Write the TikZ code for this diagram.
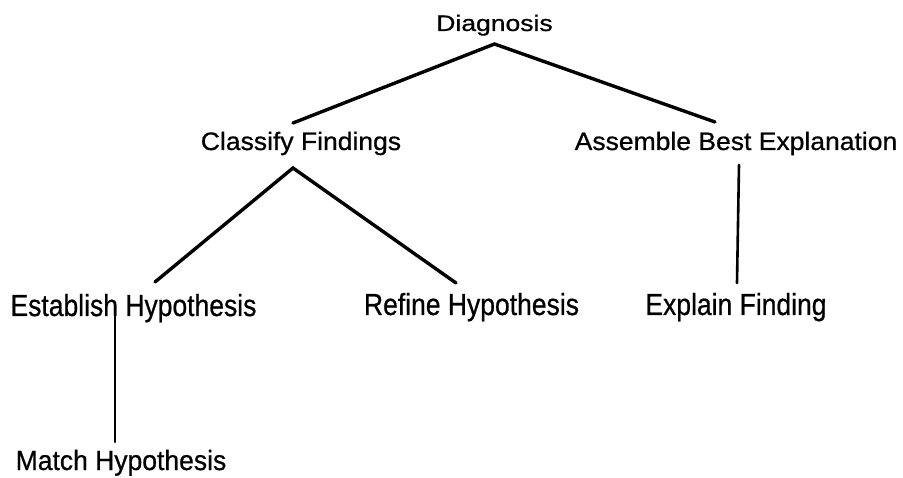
\documentclass[tikz,border=0pt]{standalone}
\usepackage{fontspec}
\setmainfont{Liberation Sans}[FakeBold=0.7]
\newcommand\vstretch[2]{\scalebox{1}[#1]{#2}}
\begin{document}
\begin{tikzpicture}[x=1pt,y=1pt,
  lbl/.style={anchor=base,inner sep=0pt,font=\fontsize{26.5}{30}\selectfont},
  conn/.style={line width=3.4pt,line cap=round},
  vconn/.style={line width=2.6pt,line cap=round}]
\useasboundingbox (0,0) rectangle (903,-478);
\node[lbl] (diag) at (494.5,-31) {\vstretch{0.85}{Diagnosis}};
\node[lbl] (cf) at (301,-150) {\vstretch{0.95}{Classify Findings}};
\node[lbl] (abe) at (736,-150) {\vstretch{0.95}{Assemble Best Explanation}};
\node[lbl] (eh) at (133.5,-316) {\vstretch{1.15}{Establish Hypothesis}};
\node[lbl] (rh) at (471.5,-315) {\vstretch{1.15}{Refine Hypothesis}};
\node[lbl] (ef) at (736,-315) {\vstretch{1.15}{Explain Finding}};
\node[lbl] (mh) at (121,-470) {\vstretch{1.05}{Match Hypothesis}};
\draw[conn] ([shift={(-8,27)}]cf.base) -- ([shift={(0,-13)}]diag.base) -- ([shift={(-21,28)}]abe.base);
\draw[conn] ([shift={(21.5,34)}]eh.base) -- ([shift={(-8,-18)}]cf.base) -- ([shift={(-15.5,32)}]rh.base);
\draw[vconn] ([shift={(3,-15)}]abe.base) -- ([shift={(1,32)}]ef.base);
\draw[vconn] ([shift={(-18.5,11)}]eh.base) -- ([shift={(-6,28)}]mh.base);
\end{tikzpicture}
\end{document}
